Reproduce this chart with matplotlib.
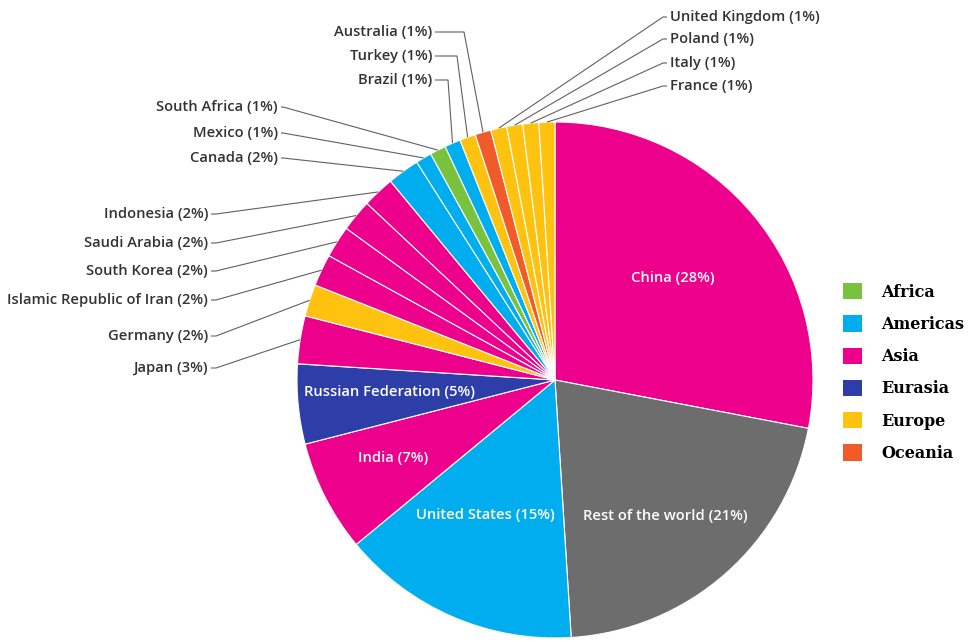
import matplotlib.pyplot as plt
import numpy as np
from matplotlib.patches import Patch

# slice data, clockwise from 12 o'clock
countries = ["China", "Rest of the world", "United States", "India", "Russian Federation",
             "Japan", "Germany", "Islamic Republic of Iran", "South Korea", "Saudi Arabia",
             "Indonesia", "Canada", "Mexico", "South Africa", "Brazil", "Turkey", "Australia",
             "United Kingdom", "Poland", "Italy", "France"]
shares = [28, 21, 15, 7, 5, 3, 2, 2, 2, 2, 2, 2, 1, 1, 1, 1, 1, 1, 1, 1, 1]
regions = ["Asia", "Rest", "Americas", "Asia", "Eurasia", "Asia", "Europe", "Asia", "Asia",
           "Asia", "Asia", "Americas", "Americas", "Africa", "Americas", "Europe", "Oceania",
           "Europe", "Europe", "Europe", "Europe"]

region_names = ["Africa", "Americas", "Asia", "Eurasia", "Europe", "Oceania"]
region_colors = {"Africa": "#78c23d", "Americas": "#00aeef", "Asia": "#ec008c",
                 "Eurasia": "#2e3ea8", "Europe": "#ffc20e", "Oceania": "#f15a29",
                 "Rest": "#6d6d6d"}

W, H = 975, 643
CX, CY, R = 555, 380, 258

fig = plt.figure(figsize=(W / 100, H / 100), dpi=100)
ax = fig.add_axes([0, 0, 1, 1])

def py(y):
    # image rows count from the top
    return H - y

colors = [region_colors[r] for r in regions]
wedges, _ = ax.pie(shares, colors=colors, startangle=90, counterclock=False,
                   center=(CX, py(CY)), radius=R, frame=True,
                   wedgeprops=dict(edgecolor="white", linewidth=0.8))
ax.set_xlim(0, W)
ax.set_ylim(0, H)
ax.set_aspect("equal")
ax.axis("off")

label_font = dict(family="Open Sans", fontweight="semibold", fontsize=10.6)

# labels inside the big slices
inner = {"China": (673, 278), "Rest of the world": (665, 516), "United States": (485, 515),
         "India": (393, 458), "Russian Federation": (390, 392)}
for name, (x, y) in inner.items():
    i = countries.index(name)
    ax.text(x, py(y), f"{name} ({shares[i]}%)", color="white", ha="center", va="center",
            **label_font)

# outer labels: text anchor, alignment, elbow x
outer = {
    "United Kingdom": (670, 17, "left", 663),
    "Poland": (670, 39, "left", 663),
    "Italy": (670, 63, "left", 663),
    "France": (670, 86, "left", 663),
    "Australia": (432, 32, "right", 464),
    "Turkey": (432, 56, "right", 457),
    "Brazil": (432, 80, "right", 448),
    "South Africa": (278, 107, "right", 283),
    "Mexico": (278, 133, "right", 283),
    "Canada": (278, 158, "right", 283),
    "Indonesia": (208, 214, "right", 216),
    "Saudi Arabia": (208, 243, "right", 216),
    "South Korea": (208, 271, "right", 216),
    "Islamic Republic of Iran": (208, 300, "right", 216),
    "Germany": (208, 336, "right", 216),
    "Japan": (208, 368, "right", 216),
}
for name, (x, y, ha, ex) in outer.items():
    i = countries.index(name)
    w = wedges[i]
    mid = np.deg2rad((w.theta1 + w.theta2) / 2)
    px_, py_ = CX + R * np.cos(mid), py(CY) + R * np.sin(mid)
    if ha == "left":
        xs = [px_, ex, x - 3]
    else:
        xs = [px_, ex, x + 3]
    ys = [py_, py(y), py(y)]
    if ha == "right" and ex > x + 20:
        # horizontal run first, then drop to the slice
        xs = [x + 3, ex, px_]
        ys = [py(y), py(y), py_]
    ax.plot(xs, ys, color="#606060", linewidth=0.8, solid_capstyle="butt")
    ax.text(x, py(y), f"{name} ({shares[i]}%)", color="#333333", ha=ha, va="center",
            **label_font)

handles = [Patch(facecolor=region_colors[r], edgecolor="none") for r in region_names]
fig.legend(handles, region_names, loc="upper left", bbox_to_anchor=(843 / W, 1 - 283 / H),
           frameon=False, borderpad=0, borderaxespad=0, handlelength=1.2, handleheight=1.2,
           handletextpad=1.2, labelspacing=0.92,
           prop=dict(family="DejaVu Serif", weight="bold", size=11.5))

fig.savefig("out.png", dpi=100, facecolor="white")
